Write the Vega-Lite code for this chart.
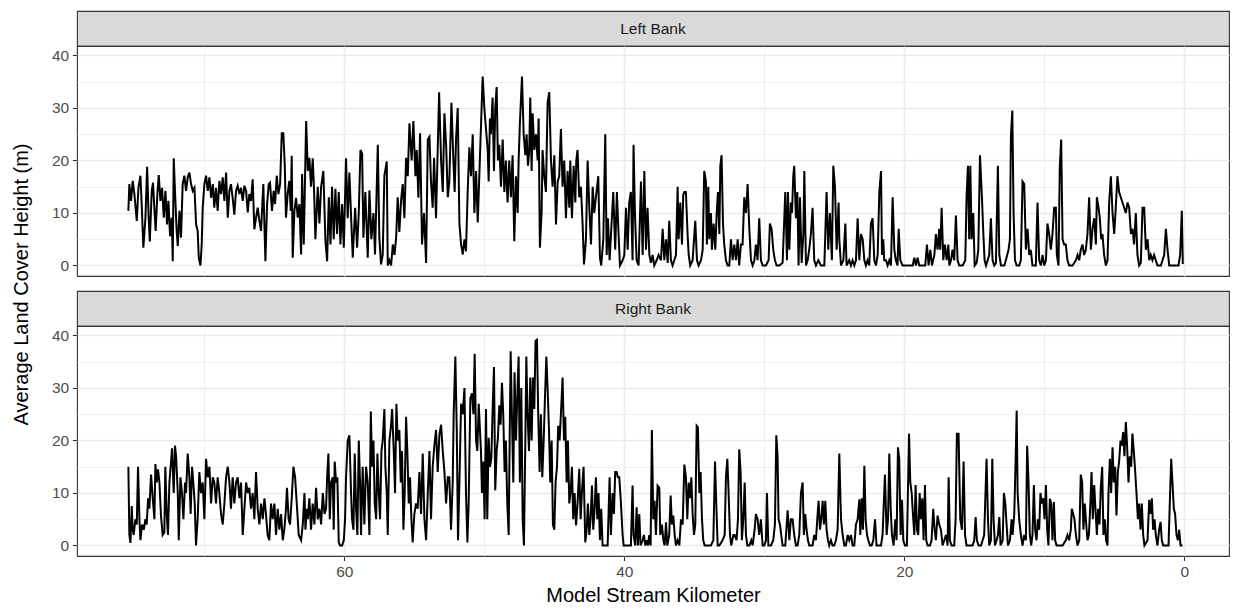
{
  "$schema": "https://vega.github.io/schema/vega-lite/v6.json",
  "background": "white",
  "padding": {"left": 10, "top": 10, "right": 8, "bottom": 4},
  "config": {
    "font": "Liberation Sans",
    "view": {"stroke": "#333333", "strokeWidth": 1.1},
    "axis": {
      "gridColor": "#ebebeb",
      "domain": false,
      "tickColor": "#333333",
      "tickSize": 4.6,
      "tickWidth": 1.1,
      "labelColor": "#4d4d4d",
      "labelFontSize": 15.5,
      "labelFont": "Liberation Sans",
      "titleFont": "Liberation Sans",
      "titleFontSize": 20,
      "titleFontWeight": "normal",
      "titleColor": "#000000",
      "labelPadding": 3.7
    }
  },
  "datasets": {
    "left": [
      {"km":75.43,"h":10.4},{"km":75.36,"h":15.5},{"km":75.24,"h":12.3},{"km":75.12,"h":16.1},{"km":75.0,"h":13.6},{"km":74.83,"h":8.5},{"km":74.71,"h":14.8},{"km":74.57,"h":17.1},{"km":74.48,"h":11.7},{"km":74.36,"h":3.4},{"km":74.21,"h":9.1},{"km":74.09,"h":18.8},{"km":73.98,"h":9.1},{"km":73.9,"h":4.6},{"km":73.76,"h":14.2},{"km":73.67,"h":15.8},{"km":73.55,"h":9.7},{"km":73.48,"h":6.6},{"km":73.36,"h":13.6},{"km":73.26,"h":17.2},{"km":73.14,"h":12.3},{"km":73.02,"h":14.8},{"km":72.9,"h":9.1},{"km":72.78,"h":14.2},{"km":72.67,"h":7.8},{"km":72.57,"h":12.3},{"km":72.45,"h":5.6},{"km":72.33,"h":9.1},{"km":72.26,"h":0.8},{"km":72.19,"h":20.4},{"km":72.07,"h":12.3},{"km":71.98,"h":6.6},{"km":71.9,"h":3.7},{"km":71.78,"h":10.4},{"km":71.67,"h":5.3},{"km":71.55,"h":15.5},{"km":71.43,"h":17.1},{"km":71.31,"h":14.2},{"km":71.19,"h":16.8},{"km":71.07,"h":17.7},{"km":70.95,"h":15.5},{"km":70.83,"h":14.2},{"km":70.71,"h":14.8},{"km":70.59,"h":7.8},{"km":70.48,"h":6.6},{"km":70.4,"h":1.5},{"km":70.28,"h":0},{"km":70.19,"h":4},{"km":70.12,"h":11},{"km":70.0,"h":15.5},{"km":69.88,"h":17.1},{"km":69.76,"h":14.2},{"km":69.64,"h":16.8},{"km":69.52,"h":12.9},{"km":69.4,"h":15.5},{"km":69.29,"h":11},{"km":69.17,"h":14.8},{"km":69.05,"h":10.4},{"km":68.93,"h":16.1},{"km":68.81,"h":13.6},{"km":68.69,"h":16.8},{"km":68.57,"h":12.3},{"km":68.45,"h":17.7},{"km":68.33,"h":9.1},{"km":68.21,"h":14.2},{"km":68.1,"h":15.5},{"km":67.98,"h":12.9},{"km":67.86,"h":9.7},{"km":67.74,"h":14.2},{"km":67.62,"h":15.2},{"km":67.5,"h":13.6},{"km":67.38,"h":14.8},{"km":67.26,"h":12.3},{"km":67.14,"h":15.2},{"km":67.02,"h":14.2},{"km":66.9,"h":10.1},{"km":66.79,"h":13.6},{"km":66.67,"h":12.3},{"km":66.55,"h":16.4},{"km":66.43,"h":6.9},{"km":66.31,"h":9.1},{"km":66.19,"h":11},{"km":66.07,"h":8.5},{"km":65.95,"h":6.6},{"km":65.86,"h":11.7},{"km":65.79,"h":15.5},{"km":65.64,"h":0.8},{"km":65.52,"h":11.7},{"km":65.4,"h":15.5},{"km":65.31,"h":15.8},{"km":65.17,"h":10.4},{"km":65.05,"h":14.2},{"km":64.95,"h":11.7},{"km":64.83,"h":17.1},{"km":64.71,"h":13.6},{"km":64.59,"h":15.5},{"km":64.47,"h":25.2},{"km":64.36,"h":25.2},{"km":64.26,"h":19.3},{"km":64.17,"h":9.1},{"km":64.05,"h":13.6},{"km":63.93,"h":16.1},{"km":63.83,"h":10.4},{"km":63.76,"h":20.9},{"km":63.69,"h":1.5},{"km":63.57,"h":10.4},{"km":63.45,"h":12.9},{"km":63.33,"h":9.1},{"km":63.21,"h":11.7},
      {"km":63.09,"h":2.1},{"km":63.02,"h":17.4},{"km":62.9,"h":4},{"km":62.73,"h":27.5},{"km":62.61,"h":18},{"km":62.5,"h":20.5},{"km":62.38,"h":15},{"km":62.26,"h":20.4},{"km":62.16,"h":14},{"km":62.07,"h":5},{"km":61.9,"h":15},{"km":61.78,"h":8},{"km":61.66,"h":15},{"km":61.5,"h":18},{"km":61.35,"h":4.6},{"km":61.23,"h":0.8},{"km":61.11,"h":13},{"km":60.99,"h":4},{"km":60.88,"h":15},{"km":60.76,"h":5},{"km":60.64,"h":14.6},{"km":60.52,"h":6},{"km":60.4,"h":14},{"km":60.28,"h":4},{"km":60.16,"h":11.7},{"km":60.04,"h":3.4},{"km":59.88,"h":20.4},{"km":59.76,"h":9},{"km":59.64,"h":17.7},{"km":59.5,"h":8},{"km":59.4,"h":1.5},{"km":59.23,"h":11},{"km":59.09,"h":3.4},{"km":58.97,"h":10},{"km":58.85,"h":22},{"km":58.73,"h":21.3},{"km":58.64,"h":5.3},{"km":58.5,"h":14},{"km":58.33,"h":1.5},{"km":58.21,"h":14.3},{"km":58.07,"h":5},{"km":57.92,"h":10},{"km":57.81,"h":2.1},{"km":57.61,"h":23},{"km":57.5,"h":5.3},{"km":57.38,"h":0.2},{"km":57.26,"h":2},{"km":57.14,"h":17.1},{"km":56.97,"h":19.8},{"km":56.9,"h":0},{"km":56.78,"h":1},{"km":56.66,"h":0},{"km":56.54,"h":4},{"km":56.42,"h":2},{"km":56.3,"h":5.3},{"km":56.19,"h":13},{"km":56.07,"h":6.4},{"km":55.95,"h":12.3},{"km":55.83,"h":15.5},{"km":55.71,"h":9},{"km":55.59,"h":20.5},{"km":55.47,"h":17},{"km":55.35,"h":27.1},{"km":55.19,"h":20},{"km":55.07,"h":27.5},{"km":54.92,"h":17},{"km":54.83,"h":22},{"km":54.71,"h":12.9},{"km":54.59,"h":25.2},{"km":54.45,"h":4},{"km":54.31,"h":10},{"km":54.16,"h":0.5},{"km":54.04,"h":24},{"km":53.92,"h":24.5},{"km":53.81,"h":16},{"km":53.69,"h":11},{"km":53.59,"h":20.5},{"km":53.45,"h":9},{"km":53.35,"h":20},{"km":53.23,"h":33},{"km":53.09,"h":20},{"km":52.97,"h":14},{"km":52.85,"h":29},{"km":52.73,"h":23},{"km":52.61,"h":13},{"km":52.5,"h":16},{"km":52.35,"h":31},{"km":52.21,"h":20},{"km":52.12,"h":14},{"km":52.02,"h":24.2},{"km":51.9,"h":30},{"km":51.78,"h":8},{"km":51.66,"h":4},{"km":51.54,"h":2.1},{"km":51.42,"h":5},{"km":51.31,"h":2.7},{"km":51.19,"h":14},{"km":51.07,"h":22.5},{"km":50.95,"h":17},{"km":50.83,"h":25},{"km":50.71,"h":10},{"km":50.59,"h":18},{"km":50.47,"h":8.2},
      {"km":50.12,"h":36},{"km":50.0,"h":30},{"km":49.88,"h":26},{"km":49.76,"h":22},{"km":49.69,"h":16},{"km":49.6,"h":28},{"km":49.53,"h":25},{"km":49.41,"h":32},{"km":49.31,"h":18},{"km":49.22,"h":30},{"km":49.12,"h":34},{"km":49.03,"h":20},{"km":48.93,"h":23},{"km":48.81,"h":15},{"km":48.69,"h":24},{"km":48.57,"h":14},{"km":48.46,"h":20},{"km":48.34,"h":12},{"km":48.22,"h":20},{"km":48.1,"h":13},{"km":47.98,"h":21},{"km":47.86,"h":4.6},{"km":47.74,"h":17},{"km":47.62,"h":10},{"km":47.55,"h":20},{"km":47.46,"h":27},{"km":47.31,"h":36},{"km":47.19,"h":25},{"km":47.07,"h":21},{"km":46.98,"h":25},{"km":46.88,"h":19},{"km":46.79,"h":22},{"km":46.72,"h":32},{"km":46.62,"h":18},{"km":46.55,"h":29},{"km":46.43,"h":22},{"km":46.31,"h":25},{"km":46.19,"h":20},{"km":46.12,"h":28},{"km":46.03,"h":3.4},{"km":45.91,"h":10},{"km":45.84,"h":22},{"km":45.72,"h":17},{"km":45.6,"h":14},{"km":45.48,"h":31},{"km":45.36,"h":33},{"km":45.24,"h":20},{"km":45.12,"h":15},{"km":45.0,"h":21},{"km":44.88,"h":7.8},{"km":44.76,"h":16},{"km":44.65,"h":17},{"km":44.53,"h":26},{"km":44.41,"h":15},{"km":44.29,"h":20},{"km":44.17,"h":9},{"km":44.05,"h":18},{"km":43.93,"h":11},{"km":43.86,"h":20},{"km":43.74,"h":9},{"km":43.62,"h":19},{"km":43.5,"h":12},{"km":43.43,"h":20},{"km":43.34,"h":22},{"km":43.22,"h":13},{"km":43.1,"h":15},{"km":42.98,"h":8},{"km":42.88,"h":0.2},{"km":42.74,"h":5},{"km":42.62,"h":20},{"km":42.5,"h":11},{"km":42.38,"h":4},{"km":42.26,"h":15},{"km":42.15,"h":10},{"km":42.03,"h":13},{"km":41.86,"h":17},{"km":41.74,"h":1.5},{"km":41.65,"h":0},{"km":41.5,"h":5},{"km":41.36,"h":25},{"km":41.26,"h":2},{"km":41.17,"h":9},{"km":41.05,"h":1},{"km":40.93,"h":7},{"km":40.79,"h":14},{"km":40.65,"h":3},{"km":40.53,"h":14},{"km":40.41,"h":6},{"km":40.31,"h":0},{"km":40.12,"h":1},{"km":40.0,"h":2},{"km":39.88,"h":11},{"km":39.76,"h":3},{"km":39.65,"h":12},{"km":39.53,"h":14},{"km":39.41,"h":1},{"km":39.34,"h":23},{"km":39.24,"h":10},{"km":39.12,"h":1},{"km":38.98,"h":0},{"km":38.81,"h":16},{"km":38.69,"h":2},{"km":38.57,"h":18},{"km":38.45,"h":3},{"km":38.34,"h":11},{"km":38.21,"h":2},{"km":38.1,"h":0.5},{"km":37.98,"h":2},{"km":37.86,"h":0},{"km":37.69,"h":1},{"km":37.55,"h":2},
      {"km":37.38,"h":1},{"km":37.26,"h":7},{"km":37.14,"h":1},{"km":37.02,"h":5},{"km":36.9,"h":0.5},{"km":36.79,"h":8.5},{"km":36.67,"h":1},{"km":36.55,"h":0},{"km":36.43,"h":1},{"km":36.31,"h":2},{"km":36.19,"h":15},{"km":36.12,"h":5},{"km":36.0,"h":12},{"km":35.88,"h":4},{"km":35.79,"h":13.5},{"km":35.71,"h":14},{"km":35.6,"h":14},{"km":35.48,"h":6},{"km":35.4,"h":2},{"km":35.29,"h":0},{"km":35.12,"h":1},{"km":34.93,"h":8.5},{"km":34.81,"h":1},{"km":34.69,"h":0},{"km":34.52,"h":1},{"km":34.4,"h":3},{"km":34.29,"h":18},{"km":34.17,"h":16},{"km":34.1,"h":4},{"km":34.0,"h":15},{"km":33.93,"h":5},{"km":33.81,"h":10},{"km":33.74,"h":3},{"km":33.62,"h":8},{"km":33.5,"h":3},{"km":33.4,"h":10},{"km":33.31,"h":14},{"km":33.21,"h":6},{"km":33.14,"h":19},{"km":33.05,"h":21},{"km":32.95,"h":8},{"km":32.86,"h":4},{"km":32.74,"h":1},{"km":32.62,"h":0},{"km":32.5,"h":0},{"km":32.38,"h":5},{"km":32.26,"h":1},{"km":32.14,"h":4},{"km":32.02,"h":1},{"km":31.9,"h":5},{"km":31.79,"h":0},{"km":31.67,"h":4},{"km":31.55,"h":4},{"km":31.43,"h":13},{"km":31.31,"h":10},{"km":31.19,"h":15.5},{"km":31.07,"h":7},{"km":30.95,"h":1},{"km":30.83,"h":0},{"km":30.71,"h":1},{"km":30.6,"h":4},{"km":30.48,"h":1},{"km":30.36,"h":9},{"km":30.24,"h":1},{"km":30.12,"h":0},{"km":29.88,"h":0},{"km":29.69,"h":1},{"km":29.6,"h":8},{"km":29.48,"h":7},{"km":29.36,"h":3},{"km":29.24,"h":1},{"km":29.12,"h":0},{"km":28.93,"h":0},{"km":28.69,"h":0.5},{"km":28.5,"h":14},{"km":28.38,"h":1},{"km":28.31,"h":14},{"km":28.21,"h":3},{"km":28.1,"h":12},{"km":28.02,"h":10},{"km":27.93,"h":17},{"km":27.86,"h":19},{"km":27.74,"h":9},{"km":27.64,"h":14},{"km":27.55,"h":0},{"km":27.45,"h":13},{"km":27.33,"h":0.5},{"km":27.21,"h":6},{"km":27.14,"h":18},{"km":27.02,"h":0},{"km":26.9,"h":1},{"km":26.79,"h":3},{"km":26.67,"h":6},{"km":26.55,"h":11},{"km":26.43,"h":1},{"km":26.31,"h":0},{"km":26.14,"h":1},{"km":25.95,"h":0},{"km":25.71,"h":0},{"km":25.55,"h":14},{"km":25.43,"h":3},{"km":25.31,"h":10},{"km":25.17,"h":1},{"km":25.07,"h":19},{"km":24.95,"h":15},{"km":24.83,"h":3},{"km":24.69,"h":12},
      {"km":24.64,"h":5},{"km":24.52,"h":0},{"km":24.35,"h":1},{"km":24.21,"h":8},{"km":24.12,"h":0},{"km":23.93,"h":1},{"km":23.81,"h":0},{"km":23.69,"h":1},{"km":23.57,"h":0},{"km":23.45,"h":1},{"km":23.33,"h":9},{"km":23.21,"h":1},{"km":23.09,"h":6},{"km":22.97,"h":5},{"km":22.85,"h":1},{"km":22.74,"h":0},{"km":22.62,"h":1},{"km":22.5,"h":0},{"km":22.38,"h":8},{"km":22.26,"h":9},{"km":22.14,"h":1},{"km":22.02,"h":0},{"km":21.9,"h":2},{"km":21.78,"h":14},{"km":21.66,"h":18},{"km":21.59,"h":2},{"km":21.5,"h":5},{"km":21.43,"h":1},{"km":21.31,"h":1},{"km":21.19,"h":0},{"km":21.07,"h":1},{"km":20.95,"h":0},{"km":20.83,"h":13},{"km":20.71,"h":3},{"km":20.6,"h":1},{"km":20.48,"h":0},{"km":20.4,"h":7},{"km":20.28,"h":1},{"km":20.12,"h":0},{"km":19.88,"h":0},{"km":19.64,"h":0},{"km":19.4,"h":0},{"km":19.28,"h":1.5},{"km":19.17,"h":0},{"km":19.05,"h":1.5},{"km":18.93,"h":0},{"km":18.69,"h":0},{"km":18.5,"h":0},{"km":18.38,"h":4},{"km":18.26,"h":0},{"km":18.14,"h":3},{"km":18.02,"h":0},{"km":17.85,"h":2},{"km":17.74,"h":6},{"km":17.62,"h":3},{"km":17.5,"h":7},{"km":17.43,"h":3},{"km":17.33,"h":11},{"km":17.21,"h":1},{"km":17.1,"h":4},{"km":16.97,"h":1},{"km":16.85,"h":4},{"km":16.78,"h":0},{"km":16.66,"h":1},{"km":16.55,"h":3},{"km":16.43,"h":1},{"km":16.31,"h":9.5},{"km":16.19,"h":1},{"km":16.07,"h":0},{"km":15.83,"h":0},{"km":15.64,"h":1},{"km":15.55,"h":13},{"km":15.45,"h":19},{"km":15.36,"h":5},{"km":15.28,"h":19},{"km":15.19,"h":5},{"km":15.07,"h":10},{"km":14.97,"h":0},{"km":14.83,"h":0.5},{"km":14.71,"h":3},{"km":14.59,"h":21},{"km":14.45,"h":13},{"km":14.35,"h":6},{"km":14.26,"h":1},{"km":14.16,"h":0},{"km":13.93,"h":2},{"km":13.81,"h":9},{"km":13.69,"h":1},{"km":13.57,"h":0},{"km":13.45,"h":0.5},{"km":13.31,"h":19},{"km":13.21,"h":2},{"km":13.09,"h":0},{"km":12.85,"h":0},{"km":12.74,"h":1},{"km":12.55,"h":3},{"km":12.45,"h":5},{"km":12.38,"h":24.7},{"km":12.28,"h":29.5},{"km":12.19,"h":10},{"km":12.09,"h":1},{"km":11.97,"h":0},{"km":11.79,"h":0},
      {"km":11.67,"h":1},{"km":11.55,"h":16},{"km":11.43,"h":15.5},{"km":11.31,"h":3},{"km":11.19,"h":7},{"km":11.07,"h":2},{"km":10.96,"h":3},{"km":10.84,"h":0},{"km":10.6,"h":0},{"km":10.48,"h":12},{"km":10.36,"h":1},{"km":10.24,"h":0},{"km":10.12,"h":2},{"km":10.0,"h":0},{"km":9.88,"h":1},{"km":9.77,"h":8},{"km":9.65,"h":6},{"km":9.53,"h":3},{"km":9.41,"h":6},{"km":9.29,"h":11},{"km":9.17,"h":11},{"km":9.1,"h":2},{"km":8.98,"h":0},{"km":8.89,"h":18.7},{"km":8.79,"h":24},{"km":8.69,"h":5},{"km":8.58,"h":4},{"km":8.46,"h":4},{"km":8.34,"h":1},{"km":8.22,"h":0},{"km":7.98,"h":0},{"km":7.74,"h":1},{"km":7.62,"h":2},{"km":7.5,"h":1},{"km":7.39,"h":3},{"km":7.27,"h":4},{"km":7.15,"h":2},{"km":7.03,"h":3},{"km":6.91,"h":6},{"km":6.79,"h":13},{"km":6.67,"h":3},{"km":6.55,"h":7},{"km":6.43,"h":9},{"km":6.31,"h":4},{"km":6.24,"h":13},{"km":6.12,"h":11},{"km":6.03,"h":9},{"km":5.93,"h":5},{"km":5.84,"h":6},{"km":5.72,"h":2},{"km":5.6,"h":0},{"km":5.48,"h":1},{"km":5.36,"h":12},{"km":5.24,"h":17},{"km":5.12,"h":10},{"km":5.0,"h":6},{"km":4.89,"h":11},{"km":4.77,"h":17},{"km":4.65,"h":14},{"km":4.53,"h":13},{"km":4.41,"h":12},{"km":4.29,"h":11},{"km":4.17,"h":10},{"km":4.05,"h":12},{"km":3.93,"h":11},{"km":3.81,"h":6},{"km":3.69,"h":7},{"km":3.58,"h":4},{"km":3.46,"h":10},{"km":3.34,"h":2},{"km":3.22,"h":0},{"km":3.1,"h":0.5},{"km":2.98,"h":11},{"km":2.86,"h":11},{"km":2.74,"h":3},{"km":2.62,"h":5},{"km":2.5,"h":1},{"km":2.39,"h":2},{"km":2.27,"h":1},{"km":2.15,"h":2},{"km":2.03,"h":1},{"km":1.91,"h":0},{"km":1.67,"h":0},{"km":1.43,"h":2},{"km":1.31,"h":7},{"km":1.19,"h":3},{"km":1.07,"h":0},{"km":0.84,"h":0},{"km":0.6,"h":0},{"km":0.41,"h":0},{"km":0.29,"h":2},{"km":0.17,"h":10.4},{"km":0.1,"h":0.3}
    ],
    "right": [
      {"km":75.43,"h":15},{"km":75.36,"h":2},{"km":75.28,"h":0.5},{"km":75.19,"h":7.5},{"km":75.12,"h":3},{"km":75.05,"h":2},{"km":74.93,"h":5},{"km":74.83,"h":4},{"km":74.74,"h":15},{"km":74.64,"h":5},{"km":74.57,"h":1},{"km":74.45,"h":4},{"km":74.33,"h":3},{"km":74.21,"h":5},{"km":74.12,"h":4},{"km":74.02,"h":9},{"km":73.93,"h":7},{"km":73.81,"h":13.5},{"km":73.69,"h":9},{"km":73.57,"h":5},{"km":73.5,"h":15.5},{"km":73.4,"h":12},{"km":73.31,"h":14.5},{"km":73.21,"h":12},{"km":73.1,"h":5.7},{"km":72.98,"h":2},{"km":72.86,"h":2.5},{"km":72.79,"h":15},{"km":72.69,"h":6},{"km":72.6,"h":2},{"km":72.5,"h":12},{"km":72.38,"h":16},{"km":72.31,"h":18.5},{"km":72.19,"h":10},{"km":72.1,"h":19},{"km":72.02,"h":17},{"km":71.9,"h":10},{"km":71.83,"h":1},{"km":71.71,"h":13},{"km":71.6,"h":10},{"km":71.5,"h":5},{"km":71.38,"h":12},{"km":71.31,"h":10},{"km":71.19,"h":17.5},{"km":71.07,"h":13},{"km":70.98,"h":6},{"km":70.88,"h":15},{"km":70.79,"h":12},{"km":70.69,"h":8},{"km":70.6,"h":0},{"km":70.48,"h":5},{"km":70.36,"h":14},{"km":70.24,"h":10},{"km":70.12,"h":12},{"km":70.0,"h":5},{"km":69.88,"h":16.5},{"km":69.76,"h":13},{"km":69.64,"h":15},{"km":69.52,"h":8},{"km":69.4,"h":13},{"km":69.29,"h":12},{"km":69.17,"h":8},{"km":69.05,"h":13},{"km":68.93,"h":10},{"km":68.81,"h":6},{"km":68.69,"h":4},{"km":68.57,"h":8},{"km":68.45,"h":13},{"km":68.33,"h":15},{"km":68.21,"h":12},{"km":68.1,"h":7},{"km":67.98,"h":13},{"km":67.86,"h":8},{"km":67.74,"h":12},{"km":67.62,"h":13},{"km":67.5,"h":9},{"km":67.38,"h":12},{"km":67.26,"h":2},{"km":67.14,"h":7},{"km":67.02,"h":12},{"km":66.9,"h":10},{"km":66.79,"h":11},{"km":66.67,"h":7},{"km":66.55,"h":10},{"km":66.43,"h":5},{"km":66.31,"h":14},{"km":66.19,"h":7},{"km":66.07,"h":4},{"km":65.95,"h":8},{"km":65.83,"h":5},{"km":65.71,"h":9},{"km":65.6,"h":6},{"km":65.48,"h":2},{"km":65.36,"h":1},{"km":65.24,"h":8},{"km":65.12,"h":5},{"km":65.0,"h":8},{"km":64.88,"h":2},{"km":64.76,"h":7},{"km":64.64,"h":3},{"km":64.52,"h":6},{"km":64.4,"h":1},{"km":64.29,"h":3},{"km":64.17,"h":7},{"km":64.1,"h":11},{"km":63.98,"h":5},{"km":63.88,"h":4},{"km":63.76,"h":9},{"km":63.64,"h":15},{"km":63.52,"h":13},{"km":63.4,"h":8},{"km":63.26,"h":2},
      {"km":63.09,"h":1},{"km":62.97,"h":4},{"km":62.85,"h":10},{"km":62.78,"h":3},{"km":62.69,"h":7},{"km":62.61,"h":5},{"km":62.5,"h":9},{"km":62.38,"h":3},{"km":62.26,"h":8},{"km":62.14,"h":4},{"km":62.02,"h":11},{"km":61.9,"h":5},{"km":61.78,"h":7},{"km":61.66,"h":4},{"km":61.54,"h":10},{"km":61.42,"h":6},{"km":61.31,"h":7},{"km":61.23,"h":13},{"km":61.14,"h":17.5},{"km":61.04,"h":5},{"km":60.95,"h":12},{"km":60.83,"h":13},{"km":60.76,"h":3},{"km":60.69,"h":16},{"km":60.59,"h":12},{"km":60.5,"h":13},{"km":60.4,"h":0.6},{"km":60.31,"h":0},{"km":60.16,"h":0},{"km":60.04,"h":1},{"km":59.95,"h":5},{"km":59.88,"h":13},{"km":59.76,"h":20},{"km":59.64,"h":21},{"km":59.52,"h":10},{"km":59.45,"h":5},{"km":59.35,"h":3},{"km":59.26,"h":17.5},{"km":59.16,"h":7},{"km":59.07,"h":2},{"km":58.97,"h":20},{"km":58.88,"h":12},{"km":58.81,"h":2},{"km":58.69,"h":15},{"km":58.57,"h":4},{"km":58.45,"h":15},{"km":58.33,"h":12},{"km":58.21,"h":2},{"km":58.11,"h":25.5},{"km":58.02,"h":15},{"km":57.92,"h":20},{"km":57.83,"h":8},{"km":57.73,"h":5},{"km":57.64,"h":17.5},{"km":57.54,"h":10},{"km":57.45,"h":5},{"km":57.35,"h":18},{"km":57.26,"h":20},{"km":57.14,"h":26},{"km":57.07,"h":15},{"km":56.97,"h":10},{"km":56.9,"h":2},{"km":56.78,"h":20},{"km":56.66,"h":23},{"km":56.59,"h":26},{"km":56.47,"h":18},{"km":56.38,"h":10},{"km":56.28,"h":27},{"km":56.19,"h":20},{"km":56.07,"h":22},{"km":55.97,"h":12},{"km":55.88,"h":18},{"km":55.78,"h":3},{"km":55.69,"h":10},{"km":55.59,"h":24.5},{"km":55.5,"h":18},{"km":55.4,"h":8},{"km":55.31,"h":13},{"km":55.21,"h":5},{"km":55.12,"h":0.6},{"km":55.0,"h":6},{"km":54.88,"h":8},{"km":54.76,"h":7},{"km":54.64,"h":14},{"km":54.52,"h":6},{"km":54.4,"h":17.5},{"km":54.28,"h":5},{"km":54.16,"h":1},{"km":54.04,"h":10},{"km":53.92,"h":18},{"km":53.81,"h":5},{"km":53.69,"h":15},{"km":53.57,"h":19},{"km":53.45,"h":22},{"km":53.33,"h":14},{"km":53.21,"h":21},{"km":53.09,"h":23},{"km":52.97,"h":18},{"km":52.85,"h":14},{"km":52.73,"h":8},{"km":52.61,"h":13},{"km":52.5,"h":13},{"km":52.38,"h":3},{"km":52.26,"h":12},{"km":52.19,"h":25},{"km":52.07,"h":36},{"km":51.97,"h":22},{"km":51.88,"h":1},{"km":51.78,"h":12},{"km":51.66,"h":27},{"km":51.54,"h":25},{"km":51.42,"h":30},{"km":51.31,"h":10},{"km":51.21,"h":0.6},{"km":51.12,"h":8},{"km":51.0,"h":28},{"km":50.88,"h":29},{"km":50.78,"h":25},{"km":50.69,"h":36.5},{"km":50.59,"h":20},{"km":50.5,"h":18},{"km":50.4,"h":27},
      {"km":50.24,"h":18},{"km":50.17,"h":10},{"km":50.07,"h":16},{"km":49.98,"h":5},{"km":49.88,"h":26},{"km":49.79,"h":5},{"km":49.69,"h":20.5},{"km":49.6,"h":15},{"km":49.5,"h":16.5},{"km":49.41,"h":25.5},{"km":49.31,"h":34},{"km":49.22,"h":10.5},{"km":49.12,"h":18},{"km":49.03,"h":20.5},{"km":48.93,"h":26.7},{"km":48.84,"h":23},{"km":48.74,"h":31},{"km":48.65,"h":25},{"km":48.55,"h":14},{"km":48.46,"h":20},{"km":48.36,"h":8},{"km":48.26,"h":2},{"km":48.19,"h":20},{"km":48.12,"h":37},{"km":48.03,"h":25},{"km":47.93,"h":12},{"km":47.84,"h":33},{"km":47.74,"h":20},{"km":47.65,"h":28},{"km":47.55,"h":36},{"km":47.46,"h":12},{"km":47.36,"h":30},{"km":47.26,"h":5},{"km":47.17,"h":0},{"km":47.07,"h":20},{"km":47.0,"h":36},{"km":46.91,"h":25},{"km":46.81,"h":18},{"km":46.72,"h":32},{"km":46.62,"h":20},{"km":46.53,"h":32},{"km":46.43,"h":26},{"km":46.34,"h":39},{"km":46.24,"h":39.2},{"km":46.15,"h":25},{"km":46.05,"h":14},{"km":45.96,"h":25},{"km":45.86,"h":13},{"km":45.76,"h":20},{"km":45.67,"h":28},{"km":45.57,"h":36},{"km":45.48,"h":30},{"km":45.38,"h":22},{"km":45.29,"h":12},{"km":45.19,"h":20},{"km":45.1,"h":4},{"km":45.0,"h":3},{"km":44.91,"h":12},{"km":44.81,"h":15},{"km":44.72,"h":22.8},{"km":44.62,"h":20},{"km":44.53,"h":25},{"km":44.41,"h":32},{"km":44.31,"h":20},{"km":44.22,"h":24.5},{"km":44.12,"h":12},{"km":44.03,"h":20},{"km":43.93,"h":8},{"km":43.84,"h":10},{"km":43.74,"h":15},{"km":43.65,"h":5},{"km":43.55,"h":10},{"km":43.45,"h":3.8},{"km":43.34,"h":8},{"km":43.22,"h":14.6},{"km":43.12,"h":5},{"km":43.03,"h":10},{"km":42.91,"h":15},{"km":42.79,"h":0.6},{"km":42.69,"h":3},{"km":42.6,"h":8},{"km":42.5,"h":2},{"km":42.41,"h":5},{"km":42.31,"h":11.4},{"km":42.22,"h":3},{"km":42.12,"h":7},{"km":42.03,"h":13},{"km":41.93,"h":5},{"km":41.84,"h":10},{"km":41.74,"h":1},{"km":41.65,"h":7},{"km":41.55,"h":0},{"km":41.31,"h":0},{"km":41.19,"h":0},{"km":41.05,"h":13},{"km":40.96,"h":2},{"km":40.84,"h":10},{"km":40.74,"h":6},{"km":40.65,"h":14},{"km":40.55,"h":14},{"km":40.46,"h":13},{"km":40.36,"h":13},{"km":40.24,"h":8},{"km":40.12,"h":2},{"km":40.05,"h":0},{"km":39.76,"h":0},{"km":39.53,"h":0},{"km":39.41,"h":11.4},{"km":39.34,"h":2},{"km":39.22,"h":0},{"km":39.12,"h":7.3},{"km":39.03,"h":0},{"km":38.93,"h":6},{"km":38.84,"h":0},{"km":38.69,"h":1},{"km":38.6,"h":2},{"km":38.5,"h":0},{"km":38.41,"h":1},{"km":38.31,"h":0},{"km":38.22,"h":2},{"km":38.12,"h":0},{"km":38.03,"h":22},{"km":37.93,"h":5},{"km":37.84,"h":8.5},{"km":37.74,"h":2},{"km":37.62,"h":11.4},
      {"km":37.5,"h":11},{"km":37.43,"h":2},{"km":37.31,"h":4},{"km":37.21,"h":1},{"km":37.12,"h":0},{"km":37.02,"h":4.4},{"km":36.93,"h":0},{"km":36.79,"h":2},{"km":36.69,"h":9.5},{"km":36.6,"h":4},{"km":36.5,"h":5.7},{"km":36.4,"h":2},{"km":36.31,"h":0},{"km":36.19,"h":1},{"km":36.07,"h":0},{"km":35.95,"h":5},{"km":35.83,"h":4},{"km":35.71,"h":15.4},{"km":35.6,"h":13},{"km":35.5,"h":5},{"km":35.4,"h":12},{"km":35.31,"h":9},{"km":35.21,"h":13},{"km":35.12,"h":6},{"km":35.02,"h":2},{"km":34.93,"h":4},{"km":34.83,"h":22.8},{"km":34.74,"h":22.5},{"km":34.64,"h":10},{"km":34.55,"h":14},{"km":34.45,"h":5},{"km":34.36,"h":1},{"km":34.26,"h":0},{"km":34.05,"h":0},{"km":33.81,"h":0},{"km":33.64,"h":1},{"km":33.52,"h":16},{"km":33.43,"h":8},{"km":33.33,"h":0},{"km":33.21,"h":0},{"km":32.98,"h":1},{"km":32.83,"h":2},{"km":32.74,"h":13},{"km":32.64,"h":16.5},{"km":32.55,"h":10},{"km":32.45,"h":2},{"km":32.36,"h":0},{"km":32.21,"h":2},{"km":32.12,"h":2},{"km":31.98,"h":1},{"km":31.88,"h":5},{"km":31.79,"h":18.3},{"km":31.69,"h":14},{"km":31.6,"h":1},{"km":31.5,"h":5},{"km":31.4,"h":12},{"km":31.31,"h":2},{"km":31.21,"h":0},{"km":31.07,"h":0},{"km":30.93,"h":1},{"km":30.83,"h":0},{"km":30.69,"h":3},{"km":30.6,"h":6},{"km":30.48,"h":5},{"km":30.36,"h":2},{"km":30.24,"h":5},{"km":30.12,"h":0},{"km":30.0,"h":0},{"km":29.88,"h":1},{"km":29.81,"h":10},{"km":29.71,"h":0},{"km":29.52,"h":0},{"km":29.36,"h":1},{"km":29.24,"h":4},{"km":29.14,"h":21},{"km":29.05,"h":17},{"km":28.98,"h":5},{"km":28.88,"h":4},{"km":28.79,"h":2},{"km":28.69,"h":0},{"km":28.5,"h":0},{"km":28.33,"h":6.7},{"km":28.21,"h":1},{"km":28.1,"h":5},{"km":27.98,"h":5},{"km":27.86,"h":2},{"km":27.74,"h":0},{"km":27.62,"h":0},{"km":27.5,"h":2},{"km":27.38,"h":10},{"km":27.26,"h":12},{"km":27.17,"h":2},{"km":27.07,"h":6},{"km":26.98,"h":3},{"km":26.88,"h":1},{"km":26.79,"h":0},{"km":26.55,"h":0},{"km":26.43,"h":2},{"km":26.31,"h":1},{"km":26.19,"h":6},{"km":26.12,"h":8.5},{"km":26.02,"h":3},{"km":25.93,"h":5},{"km":25.83,"h":8.5},{"km":25.74,"h":4},{"km":25.64,"h":8.5},{"km":25.55,"h":3},{"km":25.45,"h":1},{"km":25.36,"h":0},{"km":25.24,"h":1},{"km":25.12,"h":0},{"km":25.0,"h":0},{"km":24.88,"h":1},{"km":24.76,"h":3},
      {"km":24.64,"h":17.5},{"km":24.52,"h":5},{"km":24.4,"h":2},{"km":24.28,"h":0},{"km":24.17,"h":0},{"km":24.04,"h":2},{"km":23.93,"h":1},{"km":23.81,"h":2},{"km":23.69,"h":0},{"km":23.57,"h":0},{"km":23.45,"h":4},{"km":23.33,"h":5},{"km":23.21,"h":8.8},{"km":23.14,"h":2},{"km":23.04,"h":9},{"km":22.95,"h":3},{"km":22.85,"h":15.2},{"km":22.76,"h":5},{"km":22.66,"h":2},{"km":22.57,"h":1},{"km":22.45,"h":0},{"km":22.33,"h":0},{"km":22.21,"h":1},{"km":22.09,"h":5},{"km":21.98,"h":0},{"km":21.83,"h":0},{"km":21.66,"h":0},{"km":21.55,"h":2},{"km":21.38,"h":13.5},{"km":21.26,"h":2},{"km":21.16,"h":5},{"km":21.07,"h":17.5},{"km":20.97,"h":7},{"km":20.88,"h":2},{"km":20.76,"h":0},{"km":20.64,"h":5},{"km":20.55,"h":1},{"km":20.45,"h":18.7},{"km":20.36,"h":16.5},{"km":20.26,"h":2},{"km":20.16,"h":8.7},{"km":20.07,"h":1},{"km":19.95,"h":0},{"km":19.81,"h":0},{"km":19.66,"h":21.3},{"km":19.57,"h":12},{"km":19.47,"h":10},{"km":19.38,"h":6},{"km":19.28,"h":2},{"km":19.19,"h":11.5},{"km":19.09,"h":3},{"km":19.0,"h":2},{"km":18.9,"h":10},{"km":18.81,"h":5},{"km":18.71,"h":9},{"km":18.62,"h":1},{"km":18.52,"h":11.5},{"km":18.43,"h":1},{"km":18.33,"h":0},{"km":18.16,"h":0},{"km":18.05,"h":1},{"km":17.93,"h":7},{"km":17.83,"h":3},{"km":17.74,"h":1},{"km":17.62,"h":5.7},{"km":17.5,"h":4},{"km":17.38,"h":3},{"km":17.26,"h":0},{"km":17.14,"h":1},{"km":17.02,"h":2},{"km":16.9,"h":0},{"km":16.83,"h":13},{"km":16.74,"h":1},{"km":16.62,"h":0},{"km":16.43,"h":0},{"km":16.33,"h":5},{"km":16.24,"h":21.3},{"km":16.12,"h":21.3},{"km":16.0,"h":5},{"km":15.88,"h":3},{"km":15.76,"h":16},{"km":15.66,"h":2},{"km":15.55,"h":0},{"km":15.12,"h":0},{"km":15.0,"h":1},{"km":14.9,"h":5.4},{"km":14.81,"h":1},{"km":14.69,"h":0},{"km":14.52,"h":0},{"km":14.4,"h":1},{"km":14.29,"h":2},{"km":14.12,"h":16.5},{"km":14.02,"h":5},{"km":13.93,"h":0},{"km":13.81,"h":1},{"km":13.71,"h":16.5},{"km":13.62,"h":5},{"km":13.52,"h":0},{"km":13.4,"h":1},{"km":13.31,"h":2},{"km":13.21,"h":5.4},{"km":13.12,"h":0},{"km":12.97,"h":1},{"km":12.88,"h":10},{"km":12.78,"h":8},{"km":12.69,"h":4},{"km":12.59,"h":0},{"km":12.45,"h":1},{"km":12.33,"h":5},{"km":12.26,"h":2},{"km":12.14,"h":6},{"km":12.02,"h":19},{"km":11.97,"h":25.7},{"km":11.9,"h":10},{"km":11.79,"h":5},
      {"km":11.67,"h":2},{"km":11.55,"h":0},{"km":11.43,"h":2},{"km":11.31,"h":1},{"km":11.22,"h":19},{"km":11.12,"h":12},{"km":11.03,"h":2},{"km":10.93,"h":0},{"km":10.84,"h":2},{"km":10.74,"h":11.5},{"km":10.65,"h":3},{"km":10.55,"h":1},{"km":10.46,"h":5},{"km":10.36,"h":3},{"km":10.27,"h":10},{"km":10.17,"h":8},{"km":10.07,"h":9},{"km":9.98,"h":5},{"km":9.88,"h":11.5},{"km":9.79,"h":3},{"km":9.7,"h":0},{"km":9.6,"h":8.9},{"km":9.5,"h":8},{"km":9.41,"h":1},{"km":9.31,"h":8.3},{"km":9.22,"h":1},{"km":9.12,"h":0},{"km":8.93,"h":0},{"km":8.69,"h":0},{"km":8.46,"h":1},{"km":8.34,"h":2},{"km":8.22,"h":1},{"km":8.1,"h":3},{"km":8.03,"h":7},{"km":7.93,"h":6},{"km":7.84,"h":5},{"km":7.74,"h":2},{"km":7.62,"h":0},{"km":7.5,"h":1},{"km":7.39,"h":13.5},{"km":7.29,"h":12},{"km":7.2,"h":3},{"km":7.1,"h":8},{"km":7.0,"h":4},{"km":6.91,"h":1},{"km":6.81,"h":2},{"km":6.72,"h":7},{"km":6.62,"h":14},{"km":6.53,"h":5},{"km":6.43,"h":11.5},{"km":6.34,"h":7},{"km":6.24,"h":2},{"km":6.15,"h":7},{"km":6.05,"h":4},{"km":5.96,"h":11},{"km":5.86,"h":15},{"km":5.77,"h":2},{"km":5.67,"h":5},{"km":5.58,"h":1},{"km":5.48,"h":0},{"km":5.41,"h":10},{"km":5.31,"h":16.5},{"km":5.22,"h":10},{"km":5.12,"h":18.7},{"km":5.03,"h":12},{"km":4.93,"h":15},{"km":4.84,"h":5.7},{"km":4.74,"h":14},{"km":4.65,"h":16},{"km":4.55,"h":20},{"km":4.46,"h":19},{"km":4.36,"h":21.6},{"km":4.27,"h":17},{"km":4.17,"h":23.5},{"km":4.08,"h":19},{"km":3.98,"h":12},{"km":3.89,"h":17},{"km":3.79,"h":15},{"km":3.7,"h":21.3},{"km":3.6,"h":18},{"km":3.5,"h":14},{"km":3.41,"h":10},{"km":3.31,"h":5},{"km":3.22,"h":8},{"km":3.12,"h":3},{"km":3.03,"h":8},{"km":2.93,"h":2},{"km":2.84,"h":0},{"km":2.62,"h":1},{"km":2.5,"h":8.7},{"km":2.41,"h":6},{"km":2.31,"h":9},{"km":2.22,"h":3},{"km":2.12,"h":5},{"km":2.03,"h":2},{"km":1.91,"h":0},{"km":1.79,"h":3},{"km":1.69,"h":4.5},{"km":1.6,"h":1},{"km":1.5,"h":0},{"km":1.12,"h":0},{"km":1.03,"h":8},{"km":0.93,"h":16.5},{"km":0.84,"h":12},{"km":0.74,"h":7},{"km":0.65,"h":6},{"km":0.55,"h":2},{"km":0.45,"h":1},{"km":0.36,"h":3},{"km":0.26,"h":0},{"km":0.12,"h":0}
    ]
  },
  "spacing": 0,
  "bounds": "flush",
  "vconcat": [
    {
      "width": 1152,
      "height": 35,
      "view": {"fill": "#d9d9d9", "stroke": "#333333", "strokeWidth": 1.1},
      "data": {"values": [{"label": "Left Bank"}]},
      "mark": {"type": "text", "fontSize": 15.5, "color": "#1a1a1a", "align": "center", "baseline": "middle"},
      "encoding": {"text": {"field": "label", "type": "nominal"}}
    },
    {
      "width": 1152,
      "height": 230,
      "data": {"name": "left"},
      "mark": {"type": "line", "color": "#000000", "strokeWidth": 2.0},
      "encoding": {
        "x": {
          "field": "km", "type": "quantitative",
          "scale": {"domain": [-3.2, 79.1], "reverse": true, "nice": false, "zero": false},
          "axis": {
            "title": null, "labels": false, "ticks": false, "grid": true,
            "values": [0, 10, 20, 30, 40, 50, 60, 70],
            "gridWidth": {"condition": {"test": "datum.value % 20 === 0", "value": 1.6}, "value": 0.8}
          }
        },
        "y": {
          "field": "h", "type": "quantitative",
          "scale": {"domain": [-2, 41.8], "nice": false, "zero": false},
          "axis": {
            "title": null,
            "values": [0, 5, 10, 15, 20, 25, 30, 35, 40],
            "labelExpr": "datum.value % 10 === 0 ? datum.label : ''",
            "tickColor": {"condition": {"test": "datum.value % 10 === 0", "value": "#333333"}, "value": "transparent"},
            "gridWidth": {"condition": {"test": "datum.value % 10 === 0", "value": 1.6}, "value": 0.8}
          }
        }
      }
    },
    {
      "width": 1152,
      "height": 15,
      "view": {"stroke": null, "fill": null},
      "data": {"values": [{"label": ""}]},
      "mark": {"type": "text"},
      "encoding": {"text": {"field": "label", "type": "nominal"}}
    },
    {
      "width": 1152,
      "height": 35,
      "view": {"fill": "#d9d9d9", "stroke": "#333333", "strokeWidth": 1.1},
      "data": {"values": [{"label": "Right Bank"}]},
      "mark": {"type": "text", "fontSize": 15.5, "color": "#1a1a1a", "align": "center", "baseline": "middle"},
      "encoding": {"text": {"field": "label", "type": "nominal"}}
    },
    {
      "width": 1152,
      "height": 230,
      "data": {"name": "right"},
      "mark": {"type": "line", "color": "#000000", "strokeWidth": 2.0},
      "encoding": {
        "x": {
          "field": "km", "type": "quantitative",
          "scale": {"domain": [-3.2, 79.1], "reverse": true, "nice": false, "zero": false},
          "axis": {
            "title": "Model Stream Kilometer",
            "titlePadding": 6,
            "grid": true,
            "values": [0, 10, 20, 30, 40, 50, 60, 70],
            "labelExpr": "datum.value % 20 === 0 ? datum.label : ''",
            "tickColor": {"condition": {"test": "datum.value % 20 === 0", "value": "#333333"}, "value": "transparent"},
            "gridWidth": {"condition": {"test": "datum.value % 20 === 0", "value": 1.6}, "value": 0.8}
          }
        },
        "y": {
          "field": "h", "type": "quantitative",
          "scale": {"domain": [-2, 41.8], "nice": false, "zero": false},
          "axis": {
            "title": "Average Land Cover Height (m)",
            "titleY": -42,
            "titlePadding": 20,
            "values": [0, 5, 10, 15, 20, 25, 30, 35, 40],
            "labelExpr": "datum.value % 10 === 0 ? datum.label : ''",
            "tickColor": {"condition": {"test": "datum.value % 10 === 0", "value": "#333333"}, "value": "transparent"},
            "gridWidth": {"condition": {"test": "datum.value % 10 === 0", "value": 1.6}, "value": 0.8}
          }
        }
      }
    }
  ]
}
